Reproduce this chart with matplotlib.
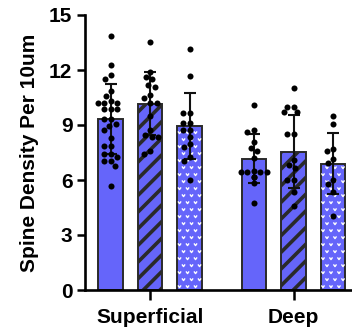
import numpy as np
import matplotlib
matplotlib.use("Agg")
import matplotlib.pyplot as plt
from matplotlib.path import Path

plt.rcParams['font.family'] = ['Liberation Sans', 'DejaVu Sans']
plt.rcParams['hatch.linewidth'] = 2.6

# ---- data ----
groups = ["Superficial", "Deep"]
means_superficial = [9.33, 10.15, 8.95]
sd_superficial = [1.89, 1.72, 1.82]
means_deep = [7.15, 7.55, 6.90]
sd_deep = [1.34, 1.98, 1.67]

sup_a = [13.87, 12.25, 11.73, 11.51, 10.87, 10.6, 10.22, 10.22, 10.22, 10.33,
         9.86, 9.86, 9.86, 9.31, 9.31, 8.95, 9.06, 8.73, 8.29, 7.86, 7.86,
         7.42, 7.42, 7.25, 7.05, 7.05, 6.78, 5.67]
sup_b = [13.55, 11.89, 11.62, 11.49, 11.2, 11.09, 10.64, 10.49, 10.22, 10.22,
         9.49, 8.71, 8.36, 8.36, 8.47, 7.6, 7.42]
sup_c = [13.13, 11.67, 9.67, 9.67, 9.09, 9.13, 8.73, 8.73, 8.36, 7.96, 7.82,
         7.27, 7.05, 6.0]
deep_a = [10.11, 8.73, 8.64, 8.09, 7.76, 7.58, 7.18, 6.44, 6.44, 6.44, 6.44,
          6.49, 6.18, 6.18, 5.82, 4.76]
deep_b = [11.0, 10.0, 10.0, 9.69, 9.69, 8.49, 8.49, 7.09, 6.82, 6.64, 6.0,
          6.0, 5.36, 4.58]
deep_c = [9.51, 9.06, 7.69, 7.6, 6.91, 7.13, 5.78, 6.0, 5.36, 4.04]

yticks = [0, 3, 6, 9, 12, 15]
ylabel = "Spine Density Per 10um"

# ---- layout ----
W, H = 352, 331
fig = plt.figure(figsize=(W / 100, H / 100), dpi=100)
ax = fig.add_axes([85 / W, 1 - 290 / H, 1 - 85 / W, 275 / H])

bar_color = "#6565FA"
edge_color = "#2a2a2a"
group_centers = [0.0, 3.63]
offsets = [-1.0, 0.0, 1.0]
width = 0.63

ax.set_xlim(-1.646, 5.11)
ax.set_ylim(0, 15)

means = [means_superficial, means_deep]
sds = [sd_superficial, sd_deep]
points = [[sup_a, sup_b, sup_c], [deep_a, deep_b, deep_c]]

# pixel scale of data units
fig.canvas.draw()
p0 = ax.transData.transform((0, 0))
p1 = ax.transData.transform((1, 1))
px_x = p1[0] - p0[0]
px_y = p1[1] - p0[1]


def swarm_offsets(vals, dmin=6.5, max_off=14.0):
    """Beeswarm-style horizontal offsets (in pixels) avoiding overlap."""
    vals = np.asarray(vals, float)
    ys = vals * px_y
    cand = np.arange(-max_off, max_off + 0.01, 0.5)
    cand = cand[np.argsort(np.abs(cand), kind="stable")]
    placed_x, placed_y = [], []
    out = np.zeros(len(vals))
    for i in np.argsort(-vals, kind="stable"):
        best = cand[0]
        for c in cand:
            ok = True
            for px, py in zip(placed_x, placed_y):
                if (c - px) ** 2 + (ys[i] - py) ** 2 < dmin ** 2:
                    ok = False
                    break
            if ok:
                best = c
                break
        out[i] = best
        placed_x.append(best)
        placed_y.append(ys[i])
    return out


# white "v" texture marker
v_marker = Path([(-1, 0.7), (0, -0.7), (1, 0.7)],
                [Path.MOVETO, Path.LINETO, Path.LINETO])

for g, gc in enumerate(group_centers):
    for k, off in enumerate(offsets):
        x = gc + off
        m = means[g][k]
        hatch = "//" if k == 1 else None
        bars = ax.bar(x, m, width=width, color=bar_color, edgecolor=edge_color,
                      linewidth=1.4, hatch=hatch, zorder=2)
        if k == 2:
            rect = bars.patches[0]
            dx = 8.0 / px_x
            dy = 7.0 / px_y
            xs, ys = [], []
            row = 0
            yy = dy * 0.5
            while yy < m:
                shift = 0.0 if row % 2 == 0 else dx / 2
                xx = x - width / 2 + dx * 0.3 + shift
                while xx < x + width / 2:
                    xs.append(xx)
                    ys.append(yy)
                    xx += dx
                yy += dy
                row += 1
            sc = ax.scatter(xs, ys, marker=v_marker, s=5, facecolors="none",
                            edgecolors="white", linewidths=1.0, zorder=2.5)
            sc.set_clip_path(rect)
        ax.errorbar(x, m, yerr=sds[g][k], fmt="none", ecolor="#111111",
                    elinewidth=1.5, capsize=4.5, capthick=1.5, zorder=3)
        vals = points[g][k]
        xo = swarm_offsets(vals) / px_x
        ax.scatter(x + xo, vals, s=19, color="black", linewidths=0, zorder=4)

# ---- axes styling ----
for s in ["top", "right"]:
    ax.spines[s].set_visible(False)
for s in ["left", "bottom"]:
    ax.spines[s].set_linewidth(1.9)
    ax.spines[s].set_color("black")

ax.set_yticks(yticks)
ax.set_yticklabels([str(t) for t in yticks], fontsize=15, fontweight="bold")
ax.set_xticks(group_centers)
ax.set_xticklabels(groups, fontsize=15, fontweight="bold")
ax.tick_params(axis="y", length=6, width=1.8, color="black", pad=3)
ax.tick_params(axis="x", length=7, width=1.8, color="black", pad=6)
ax.set_ylabel(ylabel, fontsize=15, fontweight="bold", labelpad=7)

fig.savefig("out.png", dpi=100)
